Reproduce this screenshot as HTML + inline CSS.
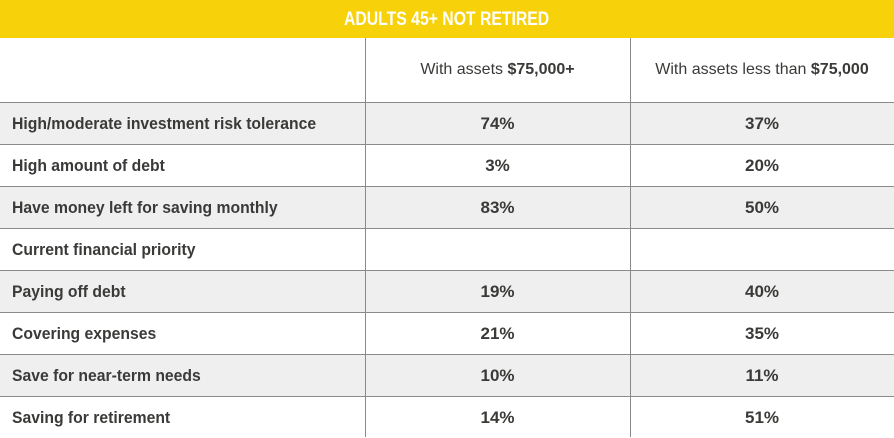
<!DOCTYPE html>
<html><head><meta charset="utf-8"><style>
body{margin:0;width:894px;height:437px;overflow:hidden;background:#fff;font-family:"Liberation Sans",sans-serif;color:#3a3a38}
.bar{position:absolute;left:0;top:0;width:894px;height:38px;background:#f7d10a;color:#fff;font-weight:bold;font-size:19px;text-align:center;line-height:40px;}
.bar span{display:inline-block;transform:scaleX(0.83)}
.row{position:absolute;left:0;width:894px;border-top:1px solid #8a8a8a}
.c{position:absolute;top:0;height:100%;display:flex;align-items:center}
.l{left:12px;font-weight:bold;font-size:17px}
.l span{display:inline-block;transform:scaleX(0.925);transform-origin:left center}
.m{left:365px;width:265px;justify-content:center;font-weight:bold;font-size:17px}
.r{left:630px;width:264px;justify-content:center;font-weight:bold;font-size:17px}
.v{position:absolute;top:38px;height:399px;width:1px;background:#8a8a8a}
.g{background:#efefef}
.h{font-weight:normal!important;font-size:16px!important}
</style></head><body>
<div class="bar"><span>ADULTS 45+ NOT RETIRED</span></div>
<div class="row" style="top:38px;height:64px;border-top:none"><div class="c m h">With assets&nbsp;<b>$75,000+</b></div><div class="c r h">With assets less than&nbsp;<b>$75,000</b></div></div>
<div class="row g" style="top:102px;height:41px"><div class="c l"><span>High/moderate investment risk tolerance</span></div><div class="c m">74%</div><div class="c r">37%</div></div>
<div class="row" style="top:144px;height:41px"><div class="c l"><span>High amount of debt</span></div><div class="c m">3%</div><div class="c r">20%</div></div>
<div class="row g" style="top:186px;height:41px"><div class="c l"><span>Have money left for saving monthly</span></div><div class="c m">83%</div><div class="c r">50%</div></div>
<div class="row" style="top:228px;height:41px"><div class="c l"><span>Current financial priority</span></div></div>
<div class="row g" style="top:270px;height:41px"><div class="c l"><span>Paying off debt</span></div><div class="c m">19%</div><div class="c r">40%</div></div>
<div class="row" style="top:312px;height:41px"><div class="c l"><span>Covering expenses</span></div><div class="c m">21%</div><div class="c r">35%</div></div>
<div class="row g" style="top:354px;height:41px"><div class="c l"><span>Save for near-term needs</span></div><div class="c m">10%</div><div class="c r">11%</div></div>
<div class="row" style="top:396px;height:41px"><div class="c l"><span>Saving for retirement</span></div><div class="c m">14%</div><div class="c r">51%</div></div>
<div class="v" style="left:365px"></div>
<div class="v" style="left:630px"></div>
</body></html>
